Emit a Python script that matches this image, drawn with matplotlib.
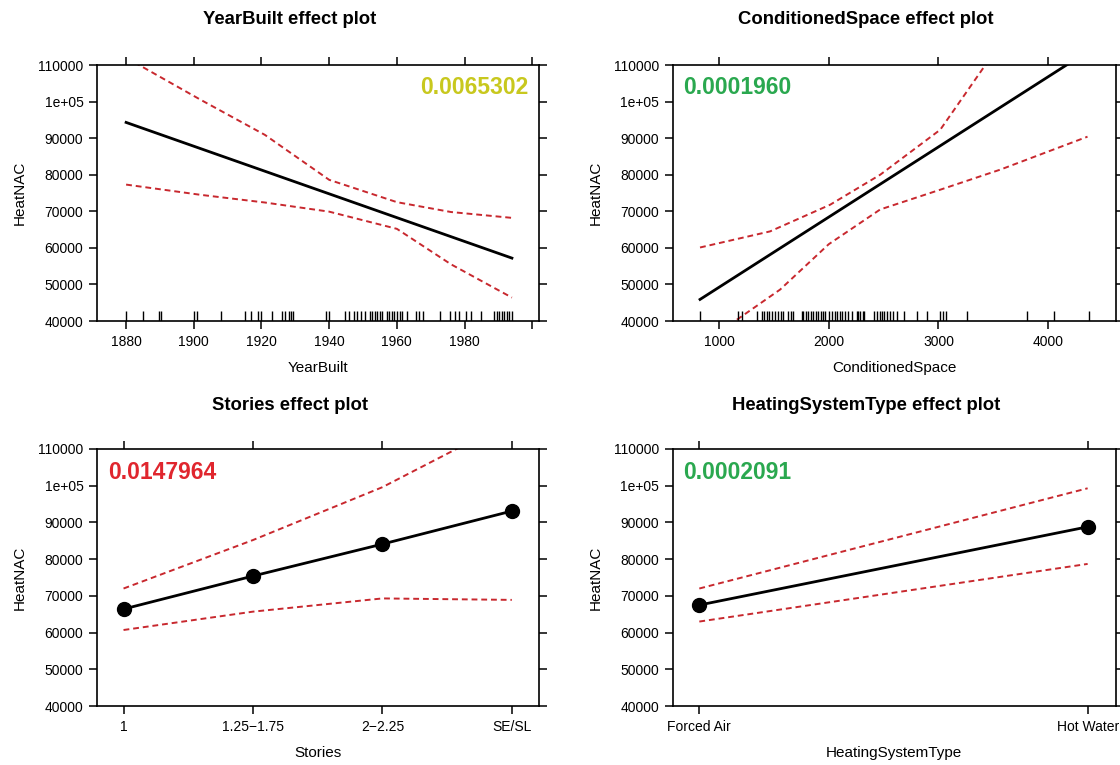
import matplotlib
matplotlib.use("Agg")
import matplotlib.pyplot as plt
import numpy as np

plt.rcParams["font.family"] = ["Liberation Sans", "DejaVu Sans"]

# ---------------- data ----------------
y_ticks = [40000, 50000, 60000, 70000, 80000, 90000, 100000, 110000]
y_tick_labels = ["40000", "50000", "60000", "70000", "80000", "90000", "1e+05", "110000"]

# YearBuilt effect
year_fit_x = [1880, 1994]
year_fit_y = [94300, 57200]
year_ci_x = [1880, 1902, 1921, 1940, 1960, 1976, 1994]
year_upper = [112000, 100500, 90900, 78600, 72500, 69800, 68200]
year_lower = [77300, 74500, 72400, 69900, 65200, 55500, 46400]
year_rug = [1880, 1885, 1889.6, 1890.2, 1900, 1901, 1908, 1915, 1917, 1919, 1920,
            1923, 1926, 1927, 1928, 1928.6, 1929.3, 1939, 1940, 1944.6, 1946, 1947.4,
            1948.3, 1949.3, 1950.5, 1952, 1952.7, 1953.4, 1954.2, 1954.9, 1955.6,
            1957, 1957.8, 1958.5, 1959.2, 1960, 1960.8, 1961.5, 1963, 1965.8, 1966.6,
            1967.8, 1972.7, 1975.8, 1977.3, 1978.5, 1980.5, 1982, 1985, 1988.8,
            1989.5, 1990.2, 1991, 1991.7, 1992.5, 1993.2, 1994]
year_ticks = [1880, 1900, 1920, 1940, 1960, 1980, 2000]
year_tick_labels = ["1880", "1900", "1920", "1940", "1960", "1980", ""]

# ConditionedSpace effect
space_fit_x = [827, 4370]
space_fit_y = [45900, 113900]
space_ci_x_up = [827, 1465, 2013, 2469, 3016, 3427, 4370]
space_upper = [60100, 64500, 71800, 80000, 92300, 110000, 135000]
space_ci_x_lo = [827, 1146, 1557, 2000, 2469, 3016, 3564, 4358]
space_lower = [31700, 40000, 48600, 61000, 70500, 75900, 81400, 90400]
space_rug = [827, 1176, 1207, 1344, 1389, 1414, 1435, 1456, 1480, 1511, 1541, 1566,
             1587, 1633, 1654, 1678, 1754, 1769, 1794, 1815, 1836, 1861, 1882, 1906,
             1931, 1946, 1967, 1998, 2028, 2058, 2074, 2098, 2119, 2150, 2171, 2210,
             2256, 2271, 2287, 2311, 2323, 2414, 2439, 2463, 2484, 2505, 2530, 2560,
             2585, 2621, 2682, 2804, 2895, 3010, 3041, 3071, 3260, 3807, 4050, 4370]
space_ticks = [1000, 2000, 3000, 4000]

# Stories effect
stories_levels = ["1", "1.25\u22121.75", "2\u22122.25", "SE/SL"]
stories_fit = [66400, 75400, 84100, 93100]
stories_upper = [72000, 85200, 99600, 117800]
stories_lower = [60700, 65700, 69300, 68900]

# HeatingSystemType effect
heating_levels = ["Forced Air", "Hot Water"]
heating_fit = [67500, 88800]
heating_upper = [72000, 99300]
heating_lower = [63000, 78700]

# p-values shown on each panel
p_year, p_space, p_stories, p_heating = "0.0065302", "0.0001960", "0.0147964", "0.0002091"

# ---------------- styling ----------------
CI_COLOR = "#c8282e"
FIT_COLOR = "black"
YELLOW = "#c8c81e"
GREEN = "#2aa84f"
RED = "#e0262e"

fig = plt.figure(figsize=(11.2, 7.65), dpi=100)
W, H = 1120, 765


def make_axes(x0, x1, y0, y1):
    return fig.add_axes([x0 / W, 1 - y1 / H, (x1 - x0) / W, (y1 - y0) / H])


def style(ax, xlabel):
    ax.set_ylim(40000, 110000)
    ax.set_yticks(y_ticks)
    ax.set_yticklabels(y_tick_labels)
    ax.tick_params(direction="out", length=5.8, width=1.1, top=True, right=True,
                   labeltop=False, labelright=False, labelsize=10, pad=4,
                   colors="black")
    for s in ax.spines.values():
        s.set_linewidth(1.2)
    ax.set_xlabel(xlabel, fontsize=11, labelpad=9)
    ax.set_ylabel("HeatNAC", fontsize=11, labelpad=8)


def ci(ax, x, y):
    ax.plot(x, y, color=CI_COLOR, lw=1.4, linestyle=(0, (3, 2)))


def rug(ax, values):
    ax.vlines(values, 0, 0.038, transform=ax.get_xaxis_transform(),
              color="black", lw=1.0)


# YearBuilt
ax1 = make_axes(97, 539, 65, 321)
ax1.plot(year_fit_x, year_fit_y, color=FIT_COLOR, lw=2.0)
ci(ax1, year_ci_x, year_upper)
ci(ax1, year_ci_x, year_lower)
rug(ax1, year_rug)
ax1.set_xlim(1871.4, 2002)
ax1.set_xticks(year_ticks)
ax1.set_xticklabels(year_tick_labels)
style(ax1, "YearBuilt")
ax1.text(0.975, 0.914, p_year, transform=ax1.transAxes, ha="right", va="center",
         fontsize=16.5, fontweight="bold", color=YELLOW)

# ConditionedSpace
ax2 = make_axes(672.7, 1115.5, 65, 321)
ax2.plot(space_fit_x, space_fit_y, color=FIT_COLOR, lw=2.0)
ci(ax2, space_ci_x_up, space_upper)
ci(ax2, space_ci_x_lo, space_lower)
rug(ax2, space_rug)
ax2.set_xlim(578, 4613)
ax2.set_xticks(space_ticks)
style(ax2, "ConditionedSpace")
ax2.text(0.023, 0.914, p_space, transform=ax2.transAxes, ha="left", va="center",
         fontsize=16.5, fontweight="bold", color=GREEN)

# Stories
ax3 = make_axes(97, 539, 449, 706)
xs = np.arange(len(stories_levels))
ax3.plot(xs, stories_fit, color=FIT_COLOR, lw=2.0, marker="o", markersize=10)
ci(ax3, xs, stories_upper)
ci(ax3, xs, stories_lower)
ax3.set_xlim(-0.205, 3.21)
ax3.set_xticks(xs)
ax3.set_xticklabels(stories_levels)
style(ax3, "Stories")
ax3.text(0.025, 0.91, p_stories, transform=ax3.transAxes, ha="left", va="center",
         fontsize=16.5, fontweight="bold", color=RED)

# HeatingSystemType
ax4 = make_axes(672.7, 1116, 449, 706)
xh = np.arange(len(heating_levels))
ax4.plot(xh, heating_fit, color=FIT_COLOR, lw=2.0, marker="o", markersize=10)
ci(ax4, xh, heating_upper)
ci(ax4, xh, heating_lower)
ax4.set_xlim(-0.0685, 1.073)
ax4.set_xticks(xh)
ax4.set_xticklabels(heating_levels)
style(ax4, "HeatingSystemType")
ax4.text(0.023, 0.91, p_heating, transform=ax4.transAxes, ha="left", va="center",
         fontsize=16.5, fontweight="bold", color=GREEN)

# panel titles
for label, cx, cy in [("YearBuilt effect plot", 290, 20),
                      ("ConditionedSpace effect plot", 866, 20),
                      ("Stories effect plot", 290, 405),
                      ("HeatingSystemType effect plot", 866, 405)]:
    fig.text(cx / W, 1 - cy / H, label, ha="center", va="center",
             fontsize=13.3, fontweight="bold")

fig.savefig("out.png", dpi=100)
